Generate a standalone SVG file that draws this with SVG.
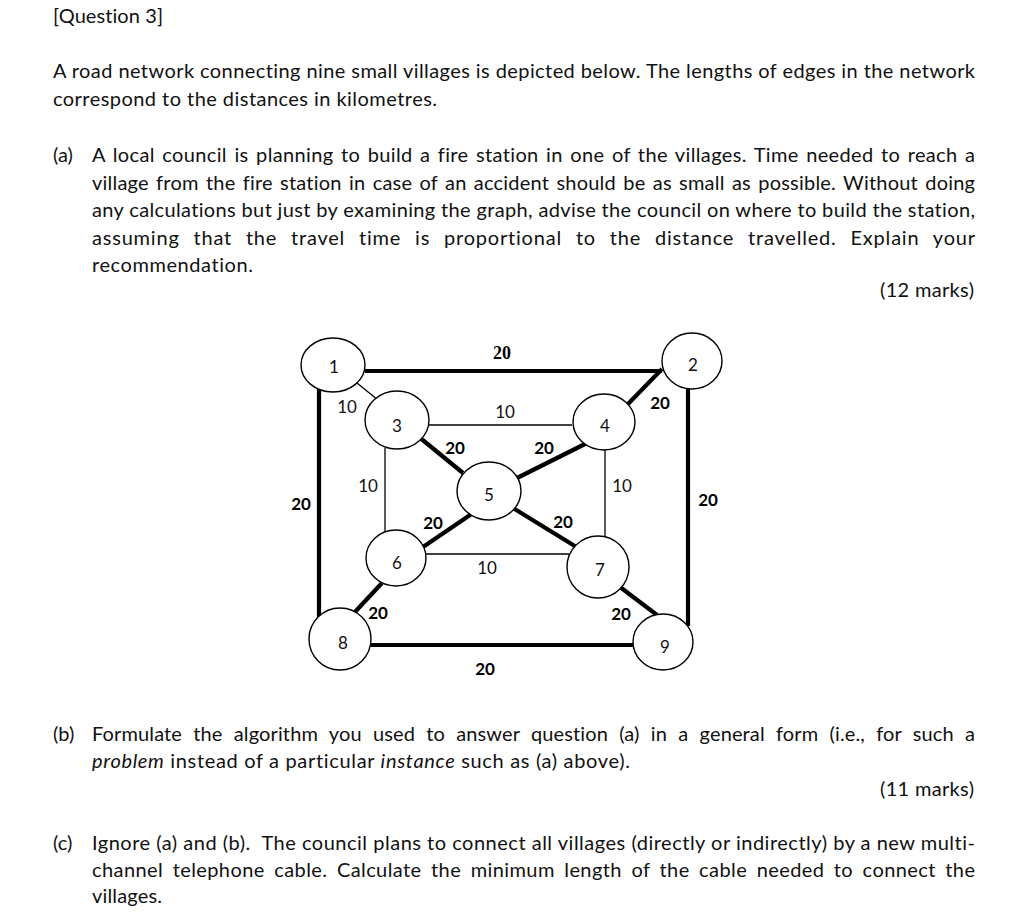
<svg xmlns="http://www.w3.org/2000/svg" width="1024" height="917" viewBox="0 0 1024 917">
<style>
.t{font-family:Lato,"Liberation Sans",sans-serif;font-size:20px;fill:#111;font-variant-ligatures:none}
.e{fill:#fff;stroke:#000;stroke-width:1.4}
.n{font-family:Lato,"Liberation Sans",sans-serif;font-size:17px;fill:#111;text-anchor:middle;dominant-baseline:central}
.thin{stroke:#000;stroke-width:1.3;fill:none}
.thick{stroke:#000;stroke-width:4.2;fill:none}
.l10{font-family:Lato,"Liberation Sans",sans-serif;font-size:17px;fill:#111;text-anchor:middle;dominant-baseline:central}
.l20{font-family:Lato,"Liberation Sans",sans-serif;font-size:17px;font-weight:bold;fill:#000;text-anchor:middle;dominant-baseline:central}
.l20s{font-family:"Liberation Serif",serif;font-size:18px;font-weight:bold;fill:#000;text-anchor:middle;dominant-baseline:central}
</style>
<rect width="1024" height="917" fill="#fff"/>
<g id="text">
<text class="t" x="53" y="23" textLength="110">[Question 3]</text>
<text class="t" x="53" y="78" textLength="922">A road network connecting nine small villages is depicted below. The lengths of edges in the network</text>
<text class="t" x="53" y="106" textLength="384">correspond to the distances in kilometres.</text>
<text class="t" x="53" y="162">(a)</text>
<text class="t" x="92" y="162" textLength="883" word-spacing="2">A local council is planning to build a fire station in one of the villages. Time needed to reach a</text>
<text class="t" x="92" y="189.5" textLength="883" word-spacing="2">village from the fire station in case of an accident should be as small as possible. Without doing</text>
<text class="t" x="92" y="217" textLength="883">any calculations but just by examining the graph, advise the council on where to build the station,</text>
<text class="t" x="92" y="244.5" textLength="883" word-spacing="8">assuming that the travel time is proportional to the distance travelled. Explain your</text>
<text class="t" x="92" y="272" textLength="161">recommendation.</text>
<text class="t" x="880" y="297" textLength="94">(12 marks)</text>
<text class="t" x="53" y="741">(b)</text>
<text class="t" x="92" y="741" textLength="883" word-spacing="6">Formulate the algorithm you used to answer question (a) in a general form (i.e., for such a</text>
<text class="t" x="92" y="768" textLength="538"><tspan font-style="italic">problem</tspan> instead of a particular <tspan font-style="italic">instance</tspan> such as (a) above).</text>
<text class="t" x="880" y="796" textLength="94">(11 marks)</text>
<text class="t" x="53" y="850">(c)</text>
<text class="t" x="92" y="850" textLength="883" xml:space="preserve">Ignore (a) and (b).  The council plans to connect all villages (directly or indirectly) by a new multi-</text>
<text class="t" x="92" y="877" textLength="883" word-spacing="4">channel telephone cable. Calculate the minimum length of the cable needed to connect the</text>
<text class="t" x="92" y="903" textLength="70">villages.</text>
</g>
<g id="connectors">
<line class="thick" x1="365" y1="371" x2="662" y2="371"/>
<line class="thick" x1="319" y1="388" x2="319" y2="618"/>
<line class="thick" x1="688" y1="388" x2="688" y2="626"/>
<line class="thick" x1="371" y1="645" x2="633" y2="645"/>
<line class="thin" x1="357" y1="383" x2="378" y2="400"/>
<line class="thin" x1="428" y1="425" x2="572" y2="425"/>
<line class="thin" x1="385" y1="448" x2="385" y2="532"/>
<line class="thin" x1="605" y1="449" x2="605" y2="537"/>
<line class="thin" x1="426" y1="554" x2="569" y2="554"/>
<line class="thick" x1="662" y1="369" x2="628" y2="404"/>
<line class="thick" x1="419" y1="437" x2="463" y2="473"/>
<line class="thick" x1="587" y1="443" x2="517" y2="478"/>
<line class="thick" x1="473" y1="513" x2="423" y2="547"/>
<line class="thick" x1="513" y1="508" x2="578" y2="548"/>
<line class="thick" x1="382" y1="583" x2="354" y2="613"/>
<line class="thick" x1="620" y1="587" x2="657" y2="615"/>
<text class="l20s" x="502" y="353">20</text>
<text class="l10" x="347" y="406">10</text>
<text class="l20" x="660" y="402">20</text>
<text class="l10" x="505" y="411">10</text>
<text class="l20" x="455" y="447">20</text>
<text class="l20" x="544" y="447">20</text>
<text class="l10" x="368" y="485">10</text>
<text class="l10" x="622" y="485">10</text>
<text class="l20" x="301" y="503">20</text>
<text class="l20" x="708" y="499">20</text>
<text class="l20" x="433" y="522">20</text>
<text class="l20" x="563" y="521">20</text>
<text class="l10" x="487" y="567">10</text>
<text class="l20" x="378" y="612">20</text>
<text class="l20" x="621" y="613">20</text>
<text class="l20" x="485" y="668">20</text>
</g>
<g id="node1"><ellipse class="e" cx="333" cy="365" rx="32" ry="27"/><text class="n" x="334" y="366">1</text></g>
<g id="node2"><ellipse class="e" cx="692" cy="361" rx="30" ry="28"/><text class="n" x="693" y="364">2</text></g>
<g id="node3"><ellipse class="e" cx="397" cy="420" rx="32" ry="29"/><text class="n" x="397" y="425">3</text></g>
<g id="node4"><ellipse class="e" cx="604" cy="422" rx="31" ry="28"/><text class="n" x="605" y="425">4</text></g>
<g id="node5"><ellipse class="e" cx="489" cy="491" rx="32" ry="29"/><text class="n" x="489" y="494">5</text></g>
<g id="node6"><ellipse class="e" cx="396" cy="558" rx="30" ry="28"/><text class="n" x="397" y="562">6</text></g>
<g id="node7"><ellipse class="e" cx="598" cy="567" rx="31" ry="31"/><text class="n" x="600" y="569">7</text></g>
<g id="node8"><ellipse class="e" cx="340" cy="639" rx="31" ry="31"/><text class="n" x="343" y="642">8</text></g>
<g id="node9"><ellipse class="e" cx="663" cy="642" rx="30" ry="28"/><text class="n" x="665" y="646">9</text></g>
</svg>
